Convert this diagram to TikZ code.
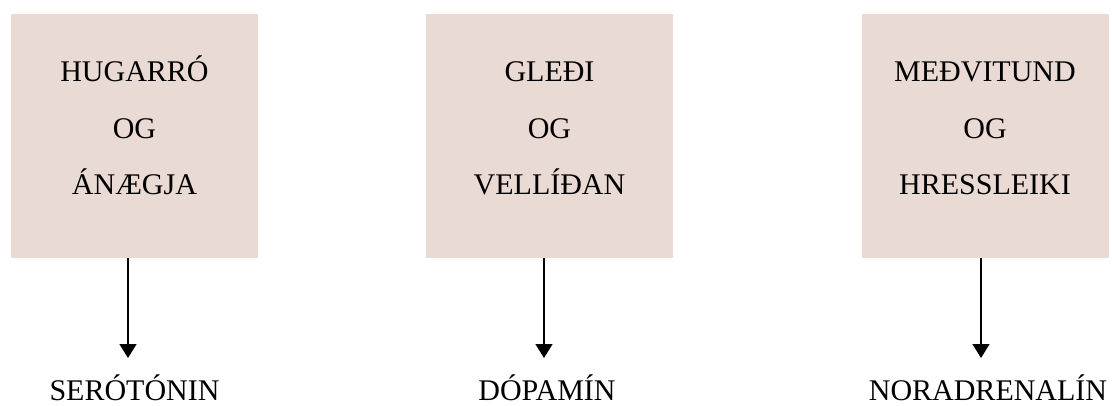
\documentclass[tikz,border=0pt]{standalone}
\usepackage{fontspec}
\setmainfont{Liberation Serif}
\usetikzlibrary{arrows.meta}
\definecolor{boxfill}{RGB}{234,218,212}
\begin{document}
\begin{tikzpicture}[x=1pt,y=1pt,
  panel/.style={fill=boxfill, draw=none, minimum width=247pt, minimum height=244pt, inner sep=0pt},
  paneltext/.style={align=center, font=\fontsize{30}{57}\selectfont, inner sep=0pt, anchor=base},
  result/.style={font=\fontsize{30}{34}\selectfont, inner sep=0pt, anchor=base},
  link/.style={line width=1.4pt, -{Triangle[length=14pt,width=17pt]}}]
\useasboundingbox (0,0) rectangle (1112,405);

% coloured panels
\node[panel] (b1) at (134.5,269) {};
\node[panel] (b2) at (549.5,269) {};
\node[panel] (b3) at (985,269) {};

% panel texts (anchored on the baseline of the last line)
\node[paneltext] (t1) at (134.5,210) {HUGARRÓ\\OG\\ÁNÆGJA};
\node[paneltext] (t2) at (549.5,210) {GLEÐI\\OG\\VELLÍÐAN};
\node[paneltext] (t3) at (985,210) {MEÐVITUND\\OG\\HRESSLEIKI};

% results below
\node[result] (r1) at (134.5,5) {SERÓTÓNIN};
\node[result] (r2) at (547,5) {DÓPAMÍN};
\node[result] (r3) at (988,5) {NORADRENALÍN};

% arrow tips
\coordinate (a1) at (128,47);
\coordinate (a2) at (544,47);
\coordinate (a3) at (981,47);

\draw[link] (b1.south -| a1) -- (a1);
\draw[link] (b2.south -| a2) -- (a2);
\draw[link] (b3.south -| a3) -- (a3);
\end{tikzpicture}
\end{document}
